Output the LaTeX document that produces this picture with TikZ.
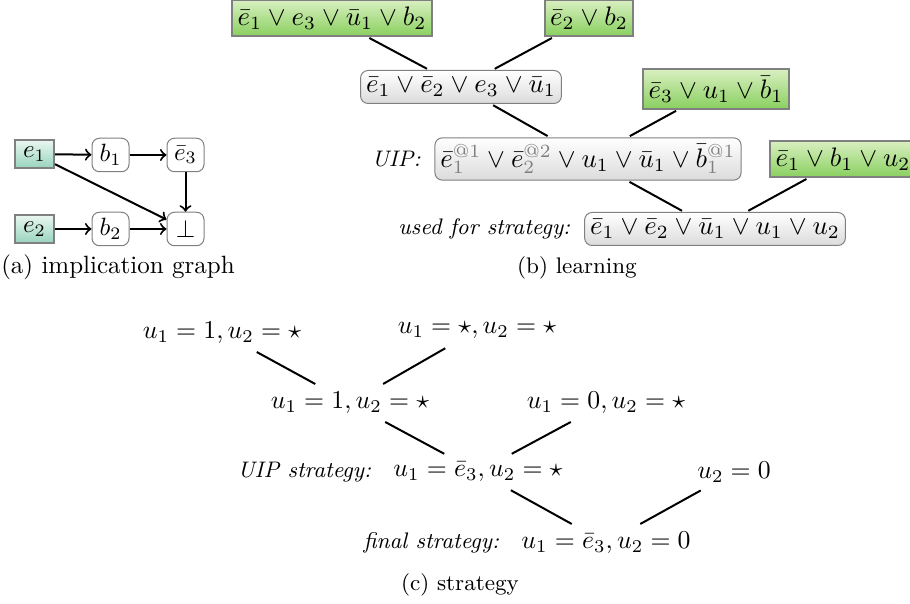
\documentclass[tikz,border=0pt]{standalone}
\usepackage{amsmath}
\usepackage{amssymb}
\usepackage{graphicx}
\usepackage{tikz}
\usetikzlibrary{positioning}

\definecolor{clausetop}{RGB}{216,239,192}
\definecolor{clausebot}{RGB}{138,208,96}
\definecolor{unittop}{RGB}{234,247,241}
\definecolor{unitbot}{RGB}{152,212,190}
\definecolor{boxline}{RGB}{128,128,128}

% clause and assignment text, a bit larger than the captions
\newcommand{\cls}[1]{\scalebox{1.07}{$#1$}}
\newcommand{\asg}[1]{\scalebox{1.03}{$#1$}}

\begin{document}
\begin{tikzpicture}[x=0.4pt, y=-0.4pt,
    given/.style={draw=boxline, line width=0.8pt, top color=clausetop, bottom color=clausebot, minimum height=13.2pt, inner xsep=2.2pt, inner ysep=2.6pt},
    learnt/.style={draw=boxline, rounded corners=3pt, top color=white, bottom color=black!14, minimum height=13.2pt, inner xsep=2.2pt, inner ysep=2.6pt},
    unit/.style={draw=boxline, line width=0.8pt, top color=unittop, bottom color=unitbot, minimum height=11.2pt, minimum width=15.6pt, inner sep=2pt},
    impl/.style={draw=boxline, rounded corners=3pt, minimum height=13.4pt, minimum width=14.8pt, inner sep=2pt},
    assign/.style={minimum height=13.2pt, inner xsep=2.2pt, inner ysep=2.6pt},
    note/.style={font=\small\itshape},
    res/.style={thick, shorten <=1pt, shorten >=1pt},
    imp/.style={->, thick}]
\useasboundingbox (0,0) rectangle (910,604);
% Nodes: implication graph
\node[unit] (e1) at (34.5,154) {$e_1$};
\node[impl] (b1) at (110.5,155) {$b_1$};
\node[impl] (ne3) at (185.5,155) {$\bar{e}_3$};
\node[unit] (e2) at (34.5,229) {$e_2$};
\node[impl] (b2) at (110.5,229) {$b_2$};
\node[impl] (bot) at (185.5,229) {$\bot$};
\node (capa) at (118,267) {(a) implication graph};
% Edges: implication graph
\draw[imp] (e1) -- (b1);
\draw[imp] (b1) -- (ne3);
\draw[imp] (ne3) -- (bot);
\draw[imp] (e1) -- (bot);
\draw[imp] (e2) -- (b2);
\draw[imp] (b2) -- (bot);
% Nodes: learning
\node[given] (c1) at (332,18) {\cls{\bar{e}_1 \vee e_3 \vee \bar{u}_1 \vee b_2}};
\node[given] (c2) at (589,18) {\cls{\bar{e}_2 \vee b_2}};
\node[learnt] (r1) at (461,87) {\cls{\bar{e}_1 \vee \bar{e}_2 \vee e_3 \vee \bar{u}_1}};
\node[given] (c3) at (716,89) {\cls{\bar{e}_3 \vee u_1 \vee \bar{b}_1}};
\node[learnt] (uip) at (588,159) {\cls{\bar{e}_1^{\color{gray}@1} \vee \bar{e}_2^{\color{gray}@2} \vee u_1 \vee \bar{u}_1 \vee \bar{b}_1^{\color{gray}@1}}};
\node[note, left=2pt of uip] (uiplab) {UIP:};
\node[given] (c4) at (843,159) {\cls{\bar{e}_1 \vee b_1 \vee u_2}};
\node[learnt] (used) at (715,229) {\cls{\bar{e}_1 \vee \bar{e}_2 \vee \bar{u}_1 \vee u_1 \vee u_2}};
\node[note, left=2pt of used] (usedlab) {used for strategy:};
\node[font=\small] (capb) at (577,268) {(b) learning};
% Edges: learning
\draw[res] (c1) -- (r1);
\draw[res] (c2) -- (r1);
\draw[res] (r1) -- (uip);
\draw[res] (c3) -- (uip);
\draw[res] (uip) -- (used);
\draw[res] (c4) -- (used);
% Nodes: strategy
\node[assign] (s1) at (222,333) {\asg{u_1 = 1, u_2 = \star}};
\node[assign] (s2) at (477,330) {\asg{u_1 = \star, u_2 = \star}};
\node[assign] (s3) at (350,403) {\asg{u_1 = 1, u_2 = \star}};
\node[assign] (s4) at (606,403) {\asg{u_1 = 0, u_2 = \star}};
\node[assign] (s5) at (478,472) {\asg{u_1 = \bar{e}_3, u_2 = \star}};
\node[note, left=3pt of s5] (s5lab) {UIP strategy:};
\node[assign] (s6) at (734,472) {\asg{u_2 = 0}};
\node[assign] (s7) at (606,543) {\asg{u_1 = \bar{e}_3, u_2 = 0}};
\node[note, left=3pt of s7] (s7lab) {final strategy:};
\node[font=\small] (capc) at (460,585) {(c) strategy};
% Edges: strategy
\draw[res] (s1) -- (s3);
\draw[res] (s2) -- (s3);
\draw[res] (s3) -- (s5);
\draw[res] (s4) -- (s5);
\draw[res] (s5) -- (s7);
\draw[res] (s6) -- (s7);
\end{tikzpicture}
\end{document}
